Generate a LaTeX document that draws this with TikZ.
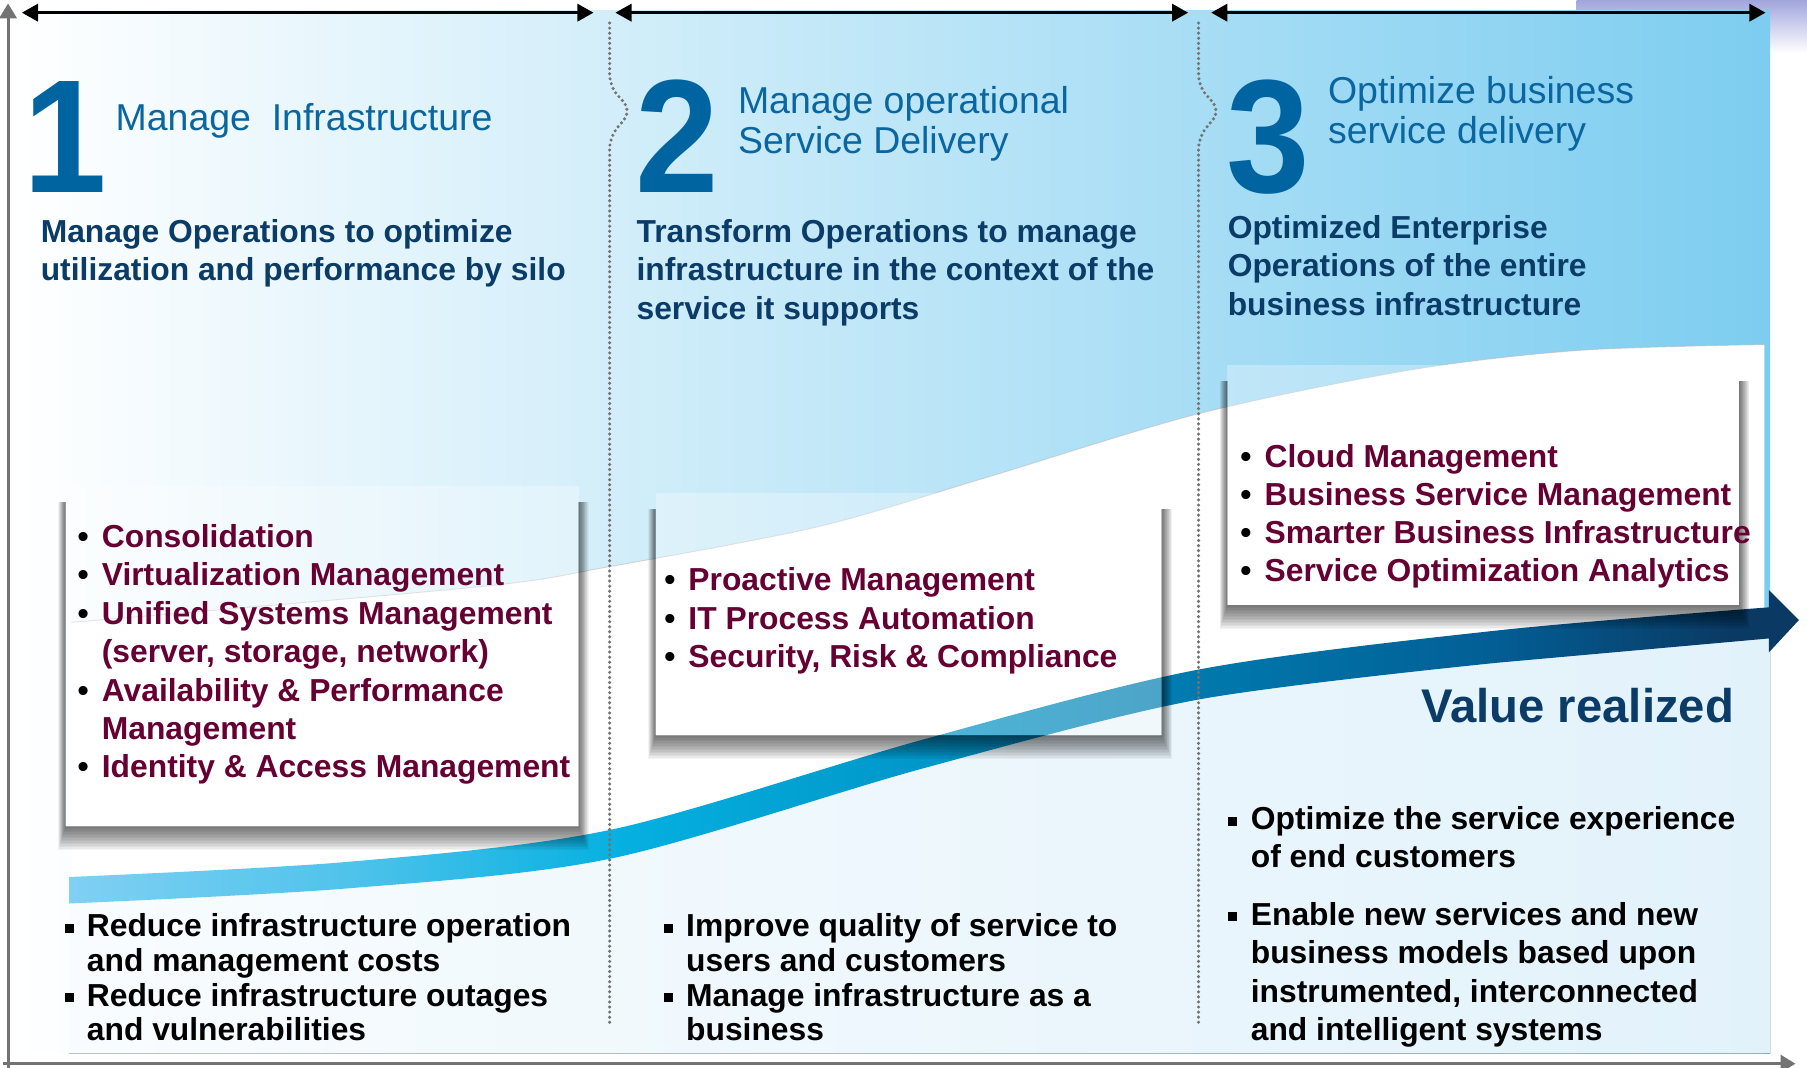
\documentclass[tikz,border=0pt]{standalone}
\usepackage{fontspec}
\setmainfont{Liberation Sans}
\newfontfamily\digfont{Liberation Sans}[FakeStretch=0.93]
\usetikzlibrary{arrows.meta}
\definecolor{numblue}{RGB}{0,100,160}
\definecolor{headblue}{RGB}{10,102,160}
\definecolor{navy}{RGB}{11,60,104}
\definecolor{maroon}{RGB}{102,0,51}
\definecolor{panelR}{RGB}{125,205,240}
\definecolor{paleL}{RGB}{248,252,254}
\definecolor{paleR}{RGB}{226,242,251}
\definecolor{lav}{RGB}{160,165,220}
\definecolor{dotgray}{RGB}{115,115,115}
\definecolor{axgray}{RGB}{115,115,115}
\definecolor{ar1}{RGB}{128,208,243}
\definecolor{ar2}{RGB}{80,195,235}
\definecolor{ar3}{RGB}{5,176,224}
\definecolor{ar4}{RGB}{0,150,200}
\definecolor{ar5}{RGB}{0,120,172}
\definecolor{ar6}{RGB}{2,95,150}
\definecolor{ar7}{RGB}{10,58,100}
\pgfdeclarehorizontalshading{arrowsh}{100bp}{color(0bp)=(ar1); color(25bp)=(ar1); color(33bp)=(ar2); color(41bp)=(ar3); color(50bp)=(ar4); color(58bp)=(ar5); color(66bp)=(ar6); color(73bp)=(ar7); color(100bp)=(ar7)}
\newcommand\mkshadow[4]{%
  \begin{scope}[even odd rule]
    \clip (0,0) rectangle (1568,926) (#1,#2) rectangle (#3,#4);
    \foreach \k in {1,...,16}{\fill[black,opacity=0.042] ({#1-\k*0.4},{#2+14}) rectangle ({#3+\k*0.55},{#4+\k*1.3});}
  \end{scope}}
\newcommand\sqb{\raisebox{1.7pt}{\rule{4pt}{4pt}}}
\begin{document}
\begin{tikzpicture}[x=0.5pt,y=-0.5pt,
  dig/.style={font=\fontsize{70}{70}\selectfont\digfont\bfseries, text=numblue, inner sep=0pt, anchor=base west, text depth=0pt, text height=50pt},
  hd/.style={font=\fontsize{16.25}{18}\selectfont, text=headblue, inner sep=0pt, anchor=base west},
  sb/.style={font=\fontsize{13.8}{16}\selectfont\bfseries, text=navy, inner sep=0pt, anchor=base west},
  itm/.style={sb, text=maroon},
  bl/.style={sb, text=black},
  val/.style={font=\fontsize{20.5}{22}\selectfont\bfseries, text=navy, inner sep=0pt, anchor=base east},
  divider/.style={dotgray, line width=1.5pt, dash pattern=on 0pt off 2.2pt, line cap=round, rounded corners=5pt},
  toparrow/.style={black, line width=1.2pt, {Triangle[length=7pt,width=7.5pt]}-{Triangle[length=7pt,width=7.5pt]}},
  axisline/.style={axgray, line width=1.3pt, -{Triangle[length=6.5pt,width=7.5pt]}},
  boxfill/.style={fill=white, fill opacity=0.3}
]
\useasboundingbox (0,0) rectangle (1568,926);
\fill[white] (0,0) rectangle (1568,926);
% lavender remnant at top right
\fill[top color=lav, bottom color=white] (1368,0) rectangle (1568,46);
% main gradient panel
\fill[left color=white, right color=panelR] (10,9) rectangle (1536,914);
% white region under the curve
\fill[white] plot[smooth] coordinates {(62,540) (417,509) (527,492) (710,457) (857,414) (1040,359) (1224,321) (1371,304) (1531,299)} -- (1531,914) -- (62,914) -- cycle;
\draw[gray!60, line width=0.4pt, opacity=0.5] plot[smooth] coordinates {(62,540) (417,509) (527,492) (710,457) (857,414) (1040,359) (1224,321) (1371,304) (1531,299)};
% pale region below the arrow
\fill[left color=paleL, right color=paleR] plot[smooth] coordinates {(60,772) (300,759) (530,732) (800,654) (1040,594) (1300,561) (1536,540)} -- (1536,914) -- (60,914) -- cycle;
% value arrow
\path[shading=arrowsh] plot[smooth] coordinates {(60,761) (300,748) (530,720) (800,642) (1040,581) (1300,547) (1535,527)} -- (1535,512) -- (1561,538) -- (1535,566) -- (1535,554) -- plot[smooth] coordinates {(1300,575) (1040,607) (800,667) (530,745) (300,771) (60,784)} -- cycle;
% boxes
\fill[boxfill] (57,422) rectangle (502,717);
\fill[boxfill] (569,428) rectangle (1008,638);
\fill[boxfill] (1065,317) rectangle (1509,525);
\mkshadow{57}{422}{502}{717}
\mkshadow{569}{428}{1008}{638}
\mkshadow{1065}{317}{1509}{525}
% dividers
\draw[divider] (529,20) -- (529,75) -- (548,96) -- (529,119) -- (529,891);
\draw[divider] (1040,20) -- (1040,75) -- (1059,96) -- (1040,119) -- (1040,891);
% axes
\coordinate (ax0) at (7,930);
\coordinate (axt) at (7,3);
\coordinate (bx0) at (3,923);
\coordinate (bxe) at (1558,923);
\draw[axisline] (ax0) -- (axt);
\draw[axisline] (bx0) -- (bxe);
% top arrows
\coordinate (a1l) at (19,11);
\coordinate (a1r) at (515,11);
\coordinate (a2l) at (534,11);
\coordinate (a2r) at (1031,11);
\coordinate (a3l) at (1051,11);
\coordinate (a3r) at (1532,11);
\draw[toparrow] (a1l) -- (a1r);
\draw[toparrow] (a2l) -- (a2r);
\draw[toparrow] (a3l) -- (a3r);
% digits and headings
\node[dig] (d1) at (20,167) {1};
\node[dig] (d2) at (551,167) {2};
\node[dig] (d3) at (1064,167) {3};
\node[hd] (h1) at (100,113.5) {Manage\ \ Infrastructure};
\node[hd] (h2a) at (640,98.5) {Manage operational};
\node[hd] (h2b) at (640,133.5) {Service Delivery};
\node[hd] (h3a) at (1152,89.5) {Optimize business};
\node[hd] (h3b) at (1152,124.5) {service delivery};
% sub texts
\node[sb] (s1a) at (35,210) {Manage Operations to optimize};
\node[sb] (s1b) at (35,243) {utilization and performance by silo};
\node[sb] (s2a) at (552,210) {Transform Operations to manage};
\node[sb] (s2b) at (552,243) {infrastructure in the context of the};
\node[sb] (s2c) at (552,277) {service it supports};
\node[sb] (s3a) at (1065,207) {Optimized Enterprise};
\node[sb] (s3b) at (1065,240) {Operations of the entire};
\node[sb] (s3c) at (1065,274) {business infrastructure};
% box 1 items
\node[bl] (b1a) at (67,475) {\textbullet};
\node[itm] (i1a) at (88,475) {Consolidation};
\node[bl] (b1b) at (67,508) {\textbullet};
\node[itm] (i1b) at (88,508) {Virtualization Management};
\node[bl] (b1c) at (67,542) {\textbullet};
\node[itm] (i1c) at (88,542) {Unified Systems Management};
\node[itm] (i1d) at (88,575) {(server, storage, network)};
\node[bl] (b1e) at (67,609) {\textbullet};
\node[itm] (i1e) at (88,609) {Availability \& Performance};
\node[itm] (i1f) at (88,642) {Management};
\node[bl] (b1g) at (67,675) {\textbullet};
\node[itm] (i1g) at (88,675) {Identity \& Access Management};
% box 2 items
\node[bl] (b2a) at (576,512) {\textbullet};
\node[itm] (i2a) at (597,512) {Proactive Management};
\node[bl] (b2b) at (576,546) {\textbullet};
\node[itm] (i2b) at (597,546) {IT Process Automation};
\node[bl] (b2c) at (576,579) {\textbullet};
\node[itm] (i2c) at (597,579) {Security, Risk \& Compliance};
% box 3 items
\node[bl] (b3a) at (1076,406) {\textbullet};
\node[itm] (i3a) at (1097,406) {Cloud Management};
\node[bl] (b3b) at (1076,439) {\textbullet};
\node[itm] (i3b) at (1097,439) {Business Service Management};
\node[bl] (b3c) at (1076,472) {\textbullet};
\node[itm] (i3c) at (1097,472) {Smarter Business Infrastructure};
\node[bl] (b3d) at (1076,505) {\textbullet};
\node[itm] (i3d) at (1097,505) {Service Optimization Analytics};
% value realized
\node[val] (vr) at (1505,627) {Value realized};
% bottom bullets column 1
\node[bl] (q1a) at (56,813) {\sqb};
\node[bl] (t1a) at (75,813) {Reduce infrastructure operation};
\node[bl] (t1b) at (75,843) {and management costs};
\node[bl] (q1c) at (56,873) {\sqb};
\node[bl] (t1c) at (75,873) {Reduce infrastructure outages};
\node[bl] (t1d) at (75,903) {and vulnerabilities};
% column 2
\node[bl] (q2a) at (576,813) {\sqb};
\node[bl] (t2a) at (595,813) {Improve quality of service to};
\node[bl] (t2b) at (595,843) {users and customers};
\node[bl] (q2c) at (576,873) {\sqb};
\node[bl] (t2c) at (595,873) {Manage infrastructure as a};
\node[bl] (t2d) at (595,903) {business};
% column 3
\node[bl] (q3a) at (1065,720) {\sqb};
\node[bl] (t3a) at (1085,720) {Optimize the service experience};
\node[bl] (t3b) at (1085,753) {of end customers};
\node[bl] (q3c) at (1065,803) {\sqb};
\node[bl] (t3c) at (1085,803) {Enable new services and new};
\node[bl] (t3d) at (1085,836) {business models based upon};
\node[bl] (t3e) at (1085,870) {instrumented, interconnected};
\node[bl] (t3f) at (1085,903) {and intelligent systems};
\end{tikzpicture}
\end{document}
